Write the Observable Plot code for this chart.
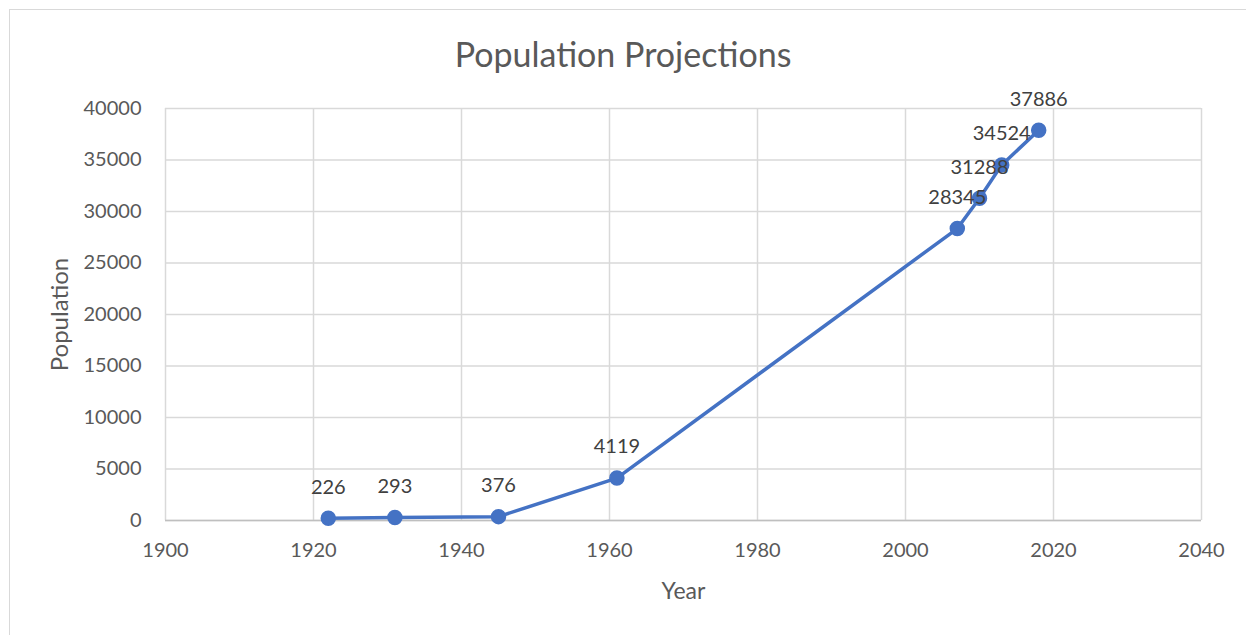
<!DOCTYPE html>
<html>
<head>
<meta charset="utf-8">
<script src="https://cdn.jsdelivr.net/npm/d3@7"></script>
<script src="https://cdn.jsdelivr.net/npm/@observablehq/plot@0.6"></script>
<style>
  html, body { margin: 0; padding: 0; background: #fff; }
  body { width: 1246px; height: 635px; position: relative; overflow: hidden; font-family: Lato, "Open Sans", sans-serif; }
  #frame { position: absolute; left: 9px; top: 9px; width: 1250px; height: 640px; border-left: 1px solid #d9d9d9; border-top: 1px solid #d9d9d9; }
  #title { position: absolute; left: 0; top: 0; width: 1246px; height: 70px; text-align: center; line-height: 1; font-size: 34px; color: #595959; padding-top: 37px; box-sizing: border-box; }
  #chart { position: absolute; left: 0; top: 70px; }
</style>
</head>
<body>
<div id="frame"></div>
<div id="title">Population Projections</div>
<div id="chart"></div>
<script>
const years = [1922, 1931, 1945, 1961, 2007, 2010, 2013, 2018];
const population = [226, 293, 376, 4119, 28345, 31288, 34524, 37886];
const xTicks = [1900, 1920, 1940, 1960, 1980, 2000, 2020, 2040];
const yTicks = [0, 5000, 10000, 15000, 20000, 25000, 30000, 35000, 40000];

const data = years.map((y, i) => ({year: y, pop: population[i]}));

const chart = Plot.plot({
  width: 1246,
  height: 565,
  marginLeft: 165,
  marginRight: 45,
  marginTop: 38,
  marginBottom: 115,
  style: {fontFamily: "Lato, 'Open Sans', sans-serif", fontSize: "20px", color: "#595959", background: "transparent", overflow: "visible"},
  x: {domain: [1900, 2040], ticks: xTicks, tickFormat: d => String(d), tickSize: 0, tickPadding: 22, label: null},
  y: {domain: [0, 40000], ticks: yTicks, tickFormat: d => String(d), tickSize: 0, tickPadding: 24, label: null},
  marks: [
    Plot.gridX(xTicks, {stroke: "#d9d9d9", strokeOpacity: 1, strokeWidth: 1.5}),
    Plot.gridY(yTicks, {stroke: "#d9d9d9", strokeOpacity: 1, strokeWidth: 1.5}),
    Plot.ruleY([0], {stroke: "#bfbfbf", strokeWidth: 1.5}),
    Plot.axisX({ticks: xTicks, tickFormat: d => String(d), tickSize: 0, tickPadding: 22, fill: "#595959", fontSize: 20, label: null}),
    Plot.axisY({ticks: yTicks, tickFormat: d => String(d), tickSize: 0, tickPadding: 24, fill: "#595959", fontSize: 20, label: null}),
    Plot.line(data, {x: "year", y: "pop", stroke: "#4472C4", strokeWidth: 3.5}),
    Plot.dot(data, {x: "year", y: "pop", r: 7, fill: "#4472C4", stroke: "#4472C4"}),
    Plot.text(data, {x: "year", y: "pop", text: d => String(d.pop), dy: -31, fill: "#404040", fontSize: 20}),
    Plot.text(["Year"], {frameAnchor: "bottom", dy: 78, fill: "#595959", fontSize: 23}),
    Plot.text(["Population"], {frameAnchor: "left", dx: -105, rotate: -90, textAnchor: "middle", fill: "#595959", fontSize: 24})
  ]
});
document.getElementById("chart").appendChild(chart);
</script>
</body>
</html>
